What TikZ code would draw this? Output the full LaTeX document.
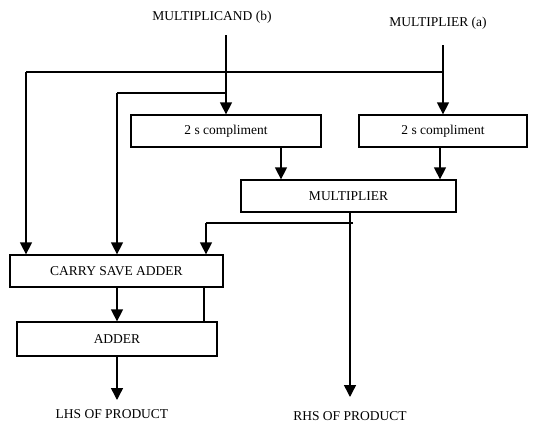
\documentclass[tikz,border=0pt]{standalone}
\usepackage{fontspec}
\setmainfont{Liberation Serif}
\usetikzlibrary{arrows.meta,positioning}
\tikzset{
  blk/.style={draw,line width=1.3pt,minimum height=32pt,inner sep=0pt,font=\fontsize{13.5}{16}\selectfont},
  lbl/.style={inner sep=0pt,font=\fontsize{13.5}{16}\selectfont},
  arr/.style={line width=1.5pt,-{Triangle[width=12pt,length=12pt]}},
  wire/.style={line width=1.1pt}
}
\begin{document}
\begin{tikzpicture}[x=1pt,y=-1pt]
\useasboundingbox (0,0) rectangle (550,423);
% inputs
\node[lbl] (mcand) at (212,17) {MULTIPLICAND (b)};
\node[lbl] (mplier) at (438,23) {MULTIPLIER (a)};
\coordinate (bin) at (226,35);
\coordinate (ain) at (443,45);
% blocks
\node[blk,minimum width=190pt] (compb) at (226,131) {2 s compliment};
\node[blk,minimum width=168pt] (compa) at (443,131) {2 s compliment};
\node[blk,minimum width=215pt] (mult) at (348.5,196) {MULTIPLIER};
\node[blk,minimum width=213pt] (csa) at (116.5,271) {CARRY SAVE ADDER};
\node[blk,minimum width=200pt,minimum height=34pt] (adder) at (117,339) {ADDER};
\node[lbl] (lhs) at (112,414) {LHS OF PRODUCT};
\node[lbl] (rhs) at (350,416) {RHS OF PRODUCT};
% junctions
\coordinate (atap) at (443,72);
\coordinate (btap) at (226,93);
\coordinate (mtap) at (350,223);
% connectors
\draw[arr] (bin) -- (compb.north);
\draw[arr] (ain) -- (compa.north);
\draw[wire] (atap) -- (26,72) coordinate (aleft);
\draw[arr] (aleft) -- (aleft |- csa.north);
\draw[wire] (btap) -- (117,93) coordinate (bleft);
\draw[arr] (bleft) -- (bleft |- csa.north);
\draw[arr] ([xshift=55pt]compb.south) -- ([xshift=55pt]compb.south |- mult.north);
\draw[arr] ([xshift=-3pt]compa.south) -- ([xshift=-3pt]compa.south |- mult.north);
\draw[arr] (mtap |- mult.south) -- (mtap |- 0,397);
\draw[wire] ([xshift=3pt]mtap) -- (206,223) coordinate (mleft);
\draw[arr] (mleft) -- (mleft |- csa.north);
\draw[arr] (adder.north |- csa.south) -- (adder.north);
\draw[wire] (204,0 |- csa.south) -- (204,0 |- adder.north);
\draw[arr] (adder.south) -- (adder.south |- 0,400);
\end{tikzpicture}
\end{document}
